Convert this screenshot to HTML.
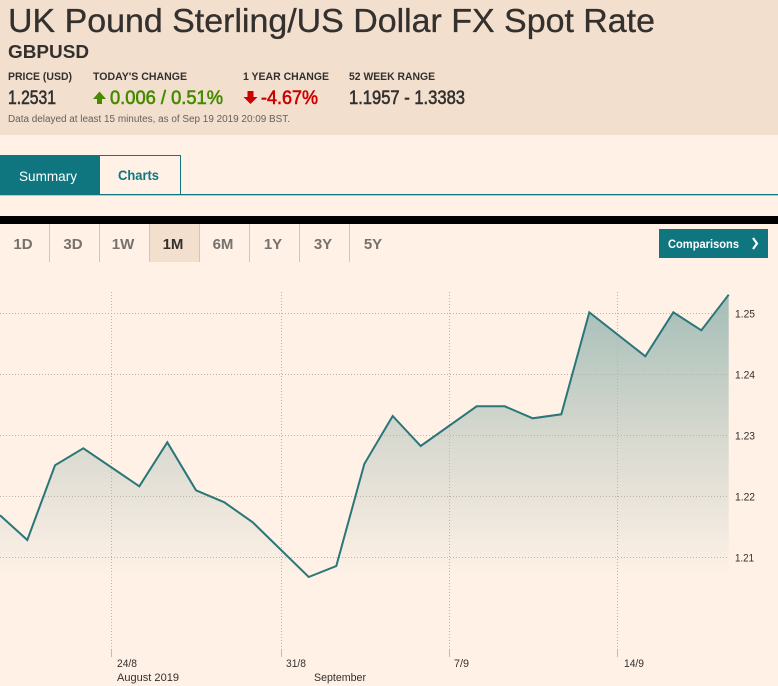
<!DOCTYPE html>
<html><head><meta charset="utf-8"><style>
html,body{margin:0;padding:0;background:#fff1e5;}
svg{display:block;}
text{font-family:"Liberation Sans",Arial,sans-serif;}
</style></head><body>
<svg width="778" height="686" viewBox="0 0 778 686" xmlns="http://www.w3.org/2000/svg">
<defs>
<linearGradient id="g" x1="0" y1="292" x2="0" y2="576" gradientUnits="userSpaceOnUse">
<stop offset="0" stop-color="#a3bdb7"/>
<stop offset="0.5" stop-color="#d6d8ce"/>
<stop offset="0.9" stop-color="#f6ece2"/>
<stop offset="1" stop-color="#fff1e5"/>
</linearGradient>
</defs>
<rect x="0" y="0" width="778" height="686" fill="#fff1e5"/>
<rect x="0" y="0" width="778" height="135" fill="#f2dfce"/>
<text x="8" y="32" font-size="33" fill="#33302e" stroke="#33302e" stroke-width="0.3" textLength="647" lengthAdjust="spacingAndGlyphs">UK Pound Sterling/US Dollar FX Spot Rate</text>
<text x="8" y="58" font-size="18" font-weight="bold" fill="#33302e" textLength="81" lengthAdjust="spacingAndGlyphs">GBPUSD</text>
<g font-size="11" font-weight="bold" fill="#33302e">
<text x="8" y="80" textLength="64" lengthAdjust="spacingAndGlyphs">PRICE (USD)</text>
<text x="93" y="80" textLength="94" lengthAdjust="spacingAndGlyphs">TODAY'S CHANGE</text>
<text x="243" y="80" textLength="86" lengthAdjust="spacingAndGlyphs">1 YEAR CHANGE</text>
<text x="349" y="80" textLength="86" lengthAdjust="spacingAndGlyphs">52 WEEK RANGE</text>
</g>
<g font-size="19" stroke-width="0.6">
<text x="8" y="104" fill="#33302e" stroke="#33302e" textLength="48" lengthAdjust="spacingAndGlyphs">1.2531</text>
<polygon points="99.5,91.5 93,99 97,99 97,104 102,104 102,99 106,99" fill="#458b00"/>
<text x="110" y="104" fill="#458b00" stroke="#458b00" textLength="113" lengthAdjust="spacingAndGlyphs">0.006 / 0.51%</text>
<polygon points="247.5,91 253.5,91 253.5,97 257.5,97 250.5,104 243.5,97 247.5,97" fill="#cc0000"/>
<text x="261" y="104" fill="#cc0000" stroke="#cc0000" textLength="57" lengthAdjust="spacingAndGlyphs">-4.67%</text>
<text x="349" y="104" fill="#33302e" stroke="#33302e" textLength="116" lengthAdjust="spacingAndGlyphs">1.1957 - 1.3383</text>
</g>
<text x="8" y="122" font-size="10" fill="#66605c" textLength="282" lengthAdjust="spacingAndGlyphs">Data delayed at least 15 minutes, as of Sep 19 2019 20:09 BST.</text>

<!-- tabs -->
<rect x="0" y="155" width="99" height="40" fill="#0f7680"/>
<rect x="99.5" y="155.5" width="81" height="39" fill="#fff1e5" stroke="#0f7680" stroke-width="1"/>
<rect x="0" y="194" width="778" height="1.3" fill="#0f7680"/>
<text x="19" y="181" font-size="14" fill="#ffffff" textLength="58" lengthAdjust="spacingAndGlyphs">Summary</text>
<text x="118" y="180" font-size="14" font-weight="bold" fill="#0f7680" textLength="41" lengthAdjust="spacingAndGlyphs">Charts</text>

<!-- black bar -->
<rect x="0" y="216" width="778" height="8" fill="#000000"/>

<!-- range buttons -->
<rect x="149" y="224" width="50" height="38" fill="#f2dfce"/>
<g fill="#d2c6bb">
<rect x="49" y="224" width="1" height="38"/>
<rect x="99" y="224" width="1" height="38"/>
<rect x="149" y="224" width="1" height="38"/>
<rect x="199" y="224" width="1" height="38"/>
<rect x="249" y="224" width="1" height="38"/>
<rect x="299" y="224" width="1" height="38"/>
<rect x="349" y="224" width="1" height="38"/>
</g>
<g font-size="15" font-weight="bold" fill="#77716c" text-anchor="middle">
<text x="23" y="249">1D</text>
<text x="73" y="249">3D</text>
<text x="123" y="249">1W</text>
<text x="173" y="249" fill="#33302e">1M</text>
<text x="223" y="249">6M</text>
<text x="273" y="249">1Y</text>
<text x="323" y="249">3Y</text>
<text x="373" y="249">5Y</text>
</g>
<rect x="659" y="229" width="109" height="29" fill="#0f7680"/>
<text x="668" y="248" font-size="12" font-weight="bold" fill="#ffffff" textLength="71" lengthAdjust="spacingAndGlyphs">Comparisons</text>
<polyline points="753,238 757,243.5 753,249" fill="none" stroke="#ffffff" stroke-width="2.2"/>

<!-- area fill -->
<path d="M0,515.3 L27.3,540 L55,465.3 L83.3,448.3 L139.3,486.3 L167.3,442.3 L196,490.3 L224.3,502.3 L252.7,522.3 L308.7,577 L336.3,566 L364.3,464 L392.7,416 L420.7,446 L476.7,406.3 L504.7,406.3 L532.7,418.3 L561.3,414.3 L589.3,312.3 L645.3,356.3 L673.3,312.3 L701.3,330.3 L728.7,294.7 L728.7,600 L0,600 Z" fill="url(#g)"/>

<!-- grid -->
<g stroke="#bdb3aa" stroke-width="1" stroke-dasharray="1,2" fill="none">
<line x1="0" y1="313.5" x2="729" y2="313.5"/>
<line x1="0" y1="374.5" x2="729" y2="374.5"/>
<line x1="0" y1="435.5" x2="729" y2="435.5"/>
<line x1="0" y1="496.5" x2="729" y2="496.5"/>
<line x1="0" y1="557.5" x2="729" y2="557.5"/>
<line x1="111.5" y1="292" x2="111.5" y2="650"/>
<line x1="281.5" y1="292" x2="281.5" y2="650"/>
<line x1="449.5" y1="292" x2="449.5" y2="650"/>
<line x1="617.5" y1="292" x2="617.5" y2="650"/>
</g>
<g stroke="#c4bab1" stroke-width="1">
<line x1="111.5" y1="650" x2="111.5" y2="657"/>
<line x1="281.5" y1="650" x2="281.5" y2="657"/>
<line x1="449.5" y1="650" x2="449.5" y2="657"/>
<line x1="617.5" y1="650" x2="617.5" y2="657"/>
</g>

<!-- line -->
<polyline points="0,515.3 27.3,540 55,465.3 83.3,448.3 139.3,486.3 167.3,442.3 196,490.3 224.3,502.3 252.7,522.3 308.7,577 336.3,566 364.3,464 392.7,416 420.7,446 476.7,406.3 504.7,406.3 532.7,418.3 561.3,414.3 589.3,312.3 645.3,356.3 673.3,312.3 701.3,330.3 728.7,294.7" fill="none" stroke="#2a7679" stroke-width="2" stroke-linejoin="miter"/>

<!-- y labels -->
<g font-size="11" fill="#33302e">
<text x="735" y="317.5" textLength="20" lengthAdjust="spacingAndGlyphs">1.25</text>
<text x="735" y="378.5" textLength="20" lengthAdjust="spacingAndGlyphs">1.24</text>
<text x="735" y="439.5" textLength="20" lengthAdjust="spacingAndGlyphs">1.23</text>
<text x="735" y="500.5" textLength="20" lengthAdjust="spacingAndGlyphs">1.22</text>
<text x="735" y="561.5" textLength="19" lengthAdjust="spacingAndGlyphs">1.21</text>
</g>
<!-- x labels -->
<g font-size="11" fill="#33302e">
<text x="117" y="667" textLength="20" lengthAdjust="spacingAndGlyphs">24/8</text>
<text x="286" y="667" textLength="20" lengthAdjust="spacingAndGlyphs">31/8</text>
<text x="454" y="667" textLength="15" lengthAdjust="spacingAndGlyphs">7/9</text>
<text x="624" y="667" textLength="20" lengthAdjust="spacingAndGlyphs">14/9</text>
<text x="117" y="681" textLength="62" lengthAdjust="spacingAndGlyphs">August 2019</text>
<text x="314" y="681" textLength="52" lengthAdjust="spacingAndGlyphs">September</text>
</g>
</svg>
</body></html>
